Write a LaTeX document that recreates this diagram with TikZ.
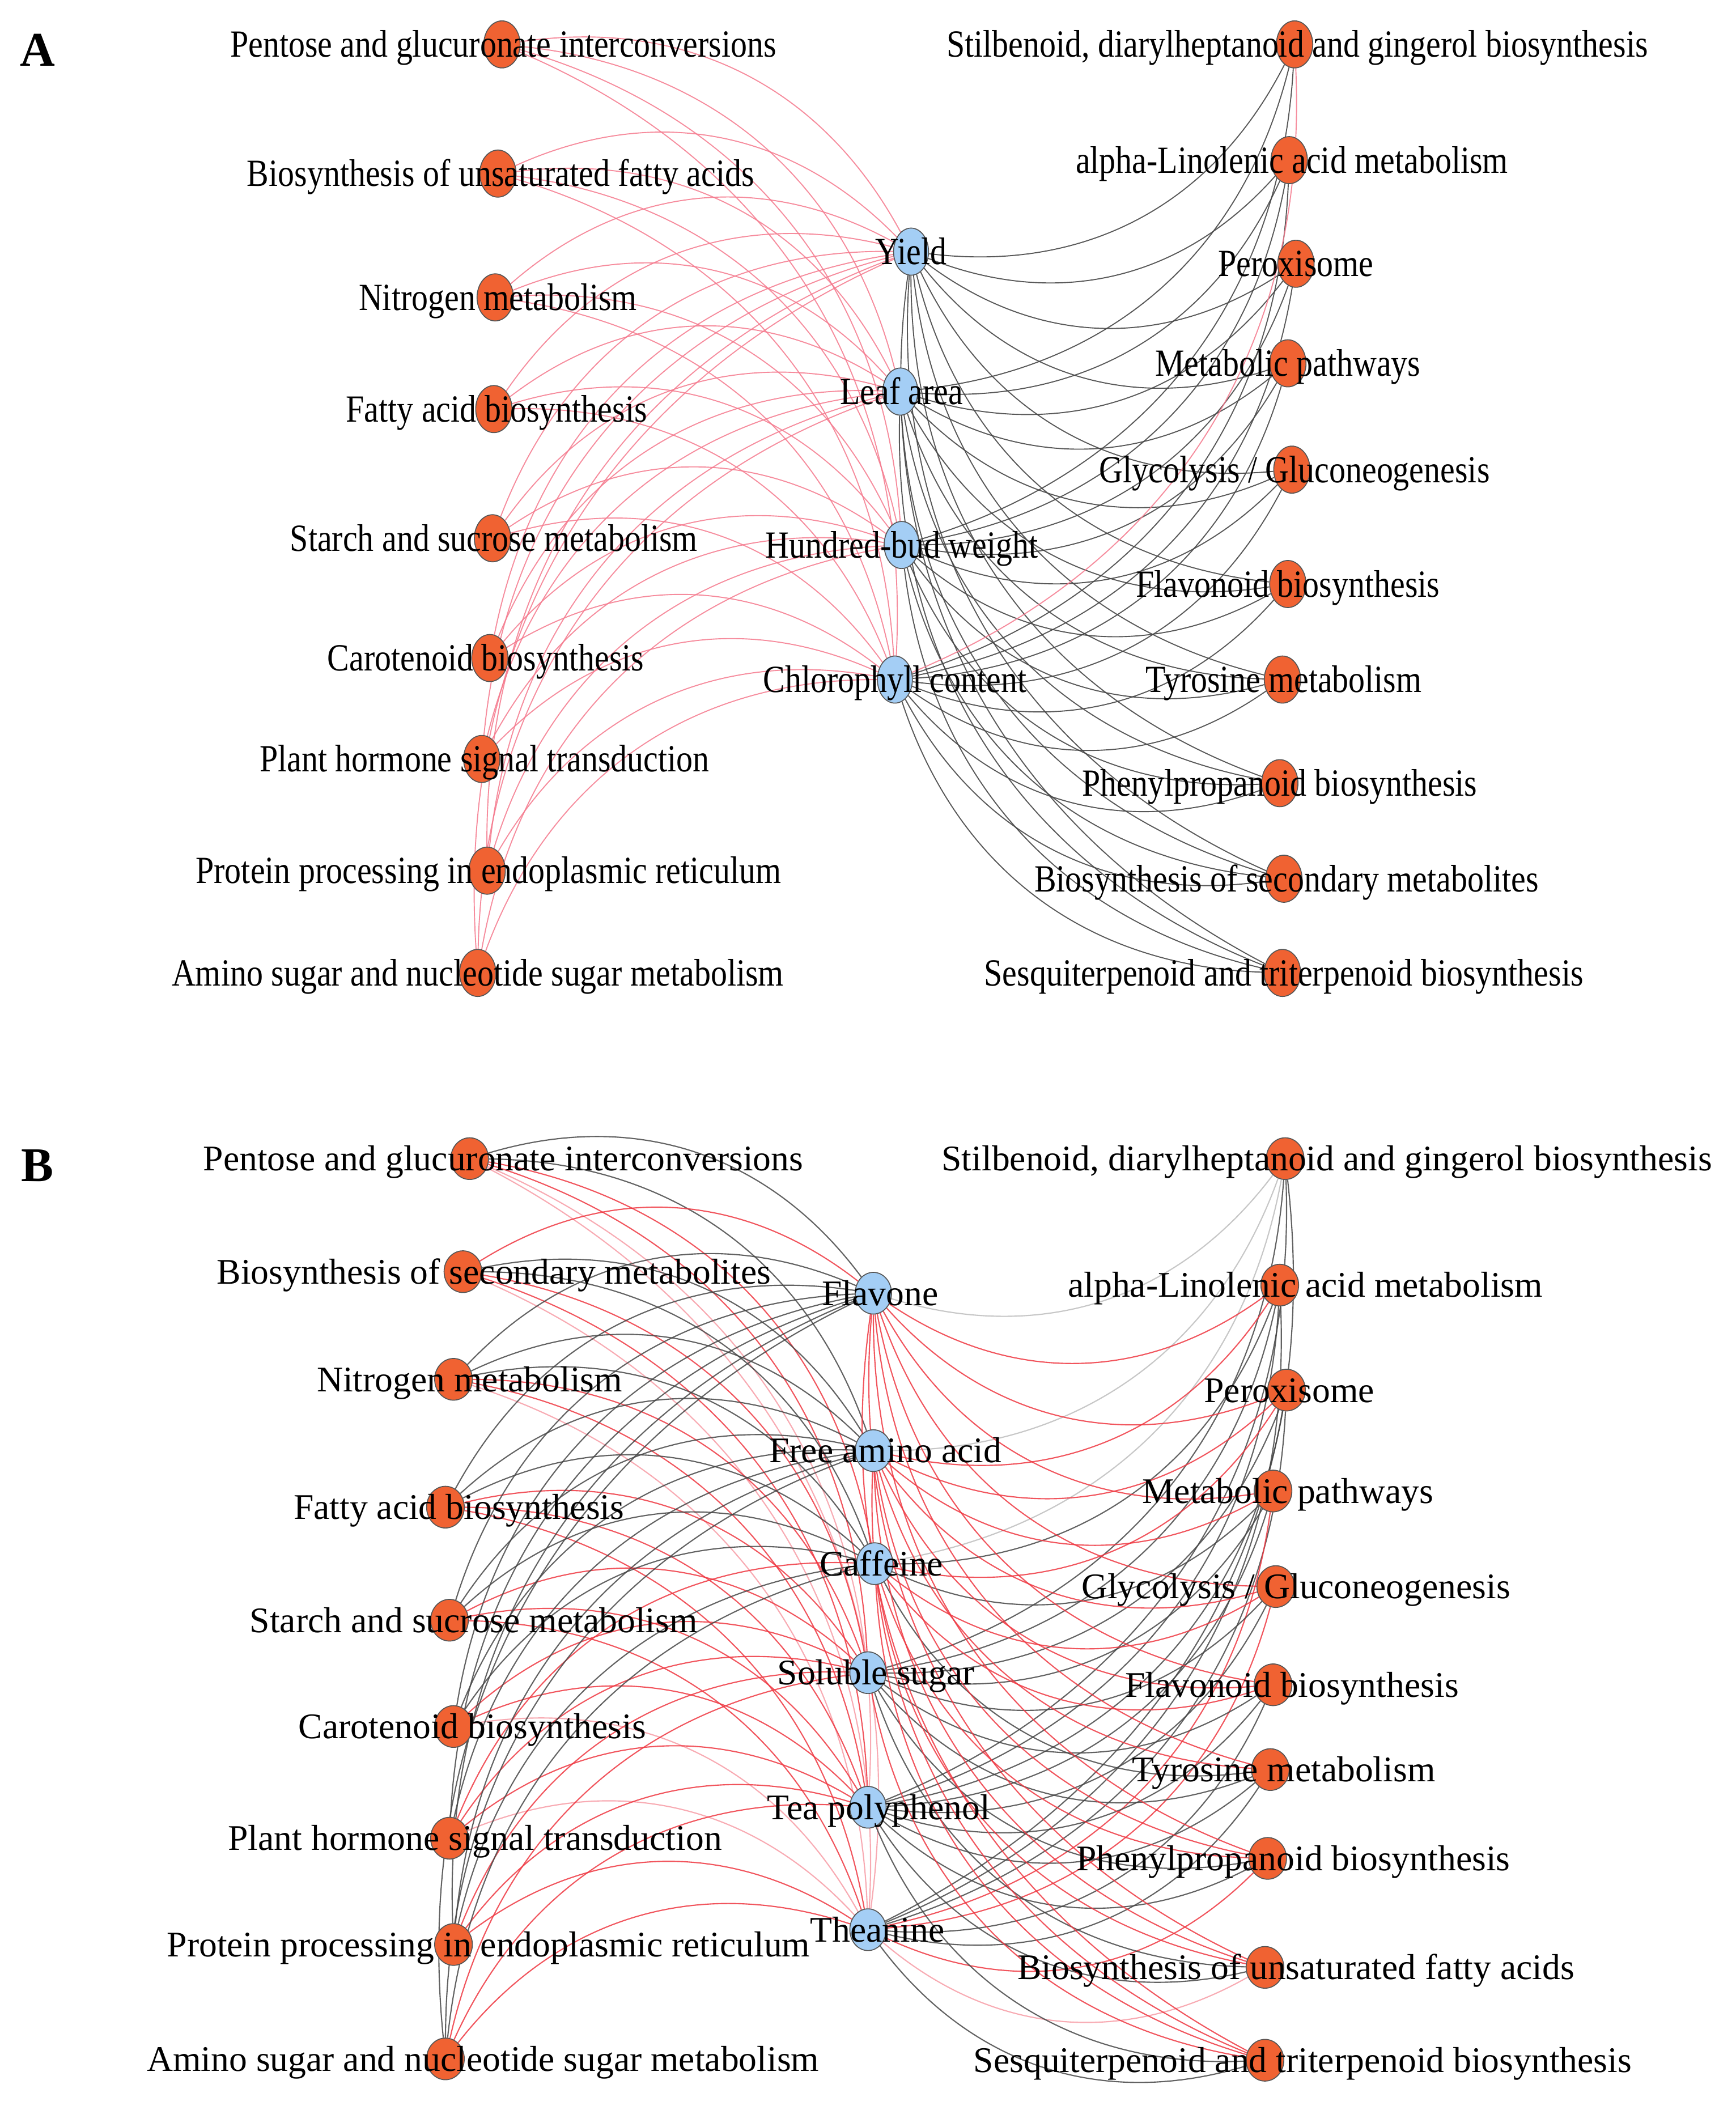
\documentclass[tikz,border=0pt]{standalone}
\usepackage{fontspec}
\setmainfont{Liberation Serif}
\usepackage{graphicx}
\usetikzlibrary{shapes.geometric}
\pgfdeclarelayer{bg}
\pgfsetlayers{bg,main}
\definecolor{orng}{RGB}{240,98,50}
\definecolor{skyb}{RGB}{164,206,245}
\definecolor{bord}{RGB}{85,85,85}
\definecolor{pinkA}{RGB}{244,120,140}
\definecolor{greyE}{RGB}{70,70,70}
\definecolor{redB}{RGB}{238,55,65}
\definecolor{pinkB}{RGB}{246,150,160}
\definecolor{lgreyB}{RGB}{185,185,185}
\tikzset{
  onodeA/.style={ellipse, draw=bord, line width=0.35pt, fill=orng, minimum width=13.5pt, minimum height=17.5pt, inner sep=0pt},
  bnodeA/.style={onodeA, fill=skyb, minimum width=13pt},
  onodeB/.style={ellipse, draw=bord, line width=0.35pt, fill=orng, minimum width=14pt, minimum height=15.5pt, inner sep=0pt},
  bnodeB/.style={onodeB, fill=skyb, minimum width=13.5pt},
  lblA/.style={anchor=base, inner sep=0pt, font=\fontsize{12.2}{14}\selectfont},
  lblB/.style={anchor=base, inner sep=0pt, font=\fontsize{13.4}{15}\selectfont},
  panel/.style={anchor=base, inner sep=0pt, font=\fontsize{18}{20}\selectfont\bfseries},
  edgeApink/.style={draw=pinkA, line width=0.4pt, opacity=0.85},
  edgeAgrey/.style={draw=greyE, line width=0.4pt, opacity=0.9},
  Bg/.style={draw=greyE, line width=0.45pt, opacity=0.85},
  Br/.style={draw=redB, line width=0.45pt, opacity=0.85},
  Bp/.style={draw=pinkB, line width=0.45pt, opacity=0.8},
  Bl/.style={draw=lgreyB, line width=0.45pt, opacity=0.8},
  bnd/.style={bend left=35}
}
\begin{document}
\begin{tikzpicture}[x=0.5pt,y=0.5pt]
\useasboundingbox (0,0) rectangle (1290,-1568);
\node[panel] (pA) at (28,-49) {A};
\node[panel] (pB) at (28,-878) {B};
% ---------------- Panel A ----------------
\foreach \n/\x/\y/\lx/\t in {
  al1/373/33/374/{Pentose and glucuronate interconversions},
  al2/370/129/372/{Biosynthesis of unsaturated fatty acids},
  al3/368/221/370/{Nitrogen metabolism},
  al4/367/304/369/{Fatty acid biosynthesis},
  al5/366/400/367/{Starch and sucrose metabolism},
  al6/364/489/361/{Carotenoid biosynthesis},
  al7/358/564/360/{Plant hormone signal transduction},
  al8/362/647/363/{Protein processing in endoplasmic reticulum},
  al9/355/723/355/{Amino sugar and nucleotide sugar metabolism},
  ar1/962/33/964/{Stilbenoid, diarylheptanoid and gingerol biosynthesis},
  ar2/958/119/960/{alpha-Linolenic acid metabolism},
  ar3/963/196/963/{Peroxisome},
  ar4/957/270/957/{Metabolic pathways},
  ar5/960/349/962/{Glycolysis / Gluconeogenesis},
  ar6/957/434/957/{Flavonoid biosynthesis},
  ar7/953/505/954/{Tyrosine metabolism},
  ar8/951/582/951/{Phenylpropanoid biosynthesis},
  ar9/954/653/956/{Biosynthesis of secondary metabolites},
  ar10/953/723/954/{Sesquiterpenoid and triterpenoid biosynthesis}}
{
  \node[onodeA] (\n) at (\x,-\y) {};
  \node[lblA] (\n t) at (\lx,-\y-9.5) {\scalebox{1}[1.17]{\t}};
}
\foreach \n/\x/\y/\lx/\t in {
  at1/677/187/677/{Yield},
  at2/669/291/670/{Leaf area},
  at3/670/405/670/{Hundred-bud weight},
  at4/665/505/665/{Chlorophyll content}}
{
  \node[bnodeA] (\n) at (\x,-\y) {};
  \node[lblA] (\n t) at (\lx,-\y-9.5) {\scalebox{1}[1.17]{\t}};
}
\begin{pgfonlayer}{bg}
\foreach \i in {1,...,9}{
  \foreach \j in {1,...,4}{
    \draw[edgeApink] (al\i) to[bnd] (at\j);
  }
}
\foreach \i in {2,...,10}{
  \foreach \j in {1,...,4}{
    \draw[edgeAgrey] (ar\i) to[bnd] (at\j);
  }
}
\foreach \j in {1,2,3}{
  \draw[edgeAgrey] (ar1) to[bnd] (at\j);
}
\draw[edgeApink] (ar1) to[bnd] (at4);
\end{pgfonlayer}
% ---------------- Panel B ----------------
\foreach \n/\x/\y/\lx/\t in {
  bl1/349/861/374/{Pentose and glucuronate interconversions},
  bl2/344/945/367/{Biosynthesis of secondary metabolites},
  bl3/337/1025/349/{Nitrogen metabolism},
  bl4/331/1120/341/{Fatty acid biosynthesis},
  bl5/334/1204/352/{Starch and sucrose metabolism},
  bl6/337/1283/351/{Carotenoid biosynthesis},
  bl7/334/1366/353/{Plant hormone signal transduction},
  bl8/337/1445/363/{Protein processing in endoplasmic reticulum},
  bl9/331/1530/359/{Amino sugar and nucleotide sugar metabolism},
  br1/955/861/986/{Stilbenoid, diarylheptanoid and gingerol biosynthesis},
  br2/951/955/970/{alpha-Linolenic acid metabolism},
  br3/956/1033/958/{Peroxisome},
  br4/946/1108/957/{Metabolic pathways},
  br5/948/1179/963/{Glycolysis / Gluconeogenesis},
  br6/946/1252/960/{Flavonoid biosynthesis},
  br7/944/1315/954/{Tyrosine metabolism},
  br8/942/1381/961/{Phenylpropanoid biosynthesis},
  br9/940/1462/963/{Biosynthesis of unsaturated fatty acids},
  br10/940/1531/968/{Sesquiterpenoid and triterpenoid biosynthesis}}
{
  \node[onodeB] (\n) at (\x,-\y) {};
  \node[lblB] (\n t) at (\lx,-\y-9) {\t};
}
\foreach \n/\x/\y/\lx/\t in {
  bt1/649/961/654/{Flavone},
  bt2/649/1078/658/{Free amino acid},
  bt3/650/1162/655/{Caffeine},
  bt4/645/1243/651/{Soluble sugar},
  bt5/645/1343/653/{Tea polyphenol},
  bt6/645/1434/652/{Theanine}}
{
  \node[bnodeB] (\n) at (\x,-\y) {};
  \node[lblB] (\n t) at (\lx,-\y-9) {\t};
}
\begin{pgfonlayer}{bg}
\foreach \i/\cols in {
  1/{Bg,Bg,Br,Br,Bp,Bp},
  2/{Br,Bg,Bg,Br,Br,Bp},
  3/{Bg,Bg,Bg,Br,Br,Bp},
  4/{Bg,Bg,Bg,Br,Br,Br},
  5/{Bg,Bg,Bg,Br,Br,Br},
  6/{Bg,Bg,Bg,Br,Br,Bp},
  7/{Bg,Bg,Br,Br,Br,Bp},
  8/{Bg,Bg,Bg,Br,Br,Br},
  9/{Bg,Bg,Bg,Br,Br,Br}}
{
  \foreach \c [count=\j] in \cols {
    \draw[\c] (bl\i) to[bnd] (bt\j);
  }
}
\foreach \i/\cols in {
  1/{Bl,Bl,Bl,Bg,Bg,Bg},
  2/{Br,Br,Bg,Bg,Bg,Bg},
  3/{Br,Br,Br,Bg,Bg,Bg},
  4/{Br,Br,Bg,Bg,Bg,Br},
  5/{Br,Br,Br,Bg,Bg,Br},
  6/{Br,Br,Br,Bg,Bg,Bg},
  7/{Br,Br,Bg,Bg,Bg,Bg},
  8/{Br,Br,Br,Bg,Bg,Br},
  9/{Br,Br,Br,Bg,Bg,Bp},
  10/{Br,Br,Br,Br,Bg,Bg}}
{
  \foreach \c [count=\j] in \cols {
    \draw[\c] (br\i) to[bnd] (bt\j);
  }
}
\end{pgfonlayer}
\end{tikzpicture}
\end{document}
